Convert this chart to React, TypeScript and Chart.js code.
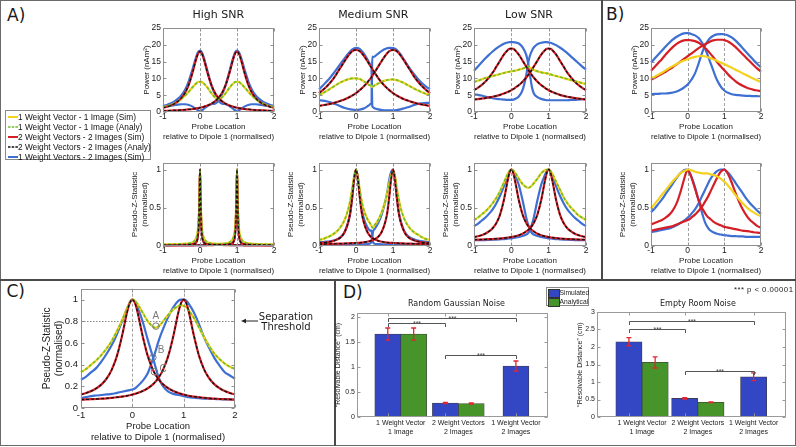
import React, { useEffect, useRef } from 'react';
import { Chart, registerables } from 'chart.js';

Chart.register(...registerables);

// ---------------- fonts & colours ----------------
const SANS = '"Liberation Sans", Arial, Helvetica, sans-serif';
const DEJAVU = '"DejaVu Sans", Verdana, sans-serif';
const YEL = '#f3d11f';
const GRN = '#6cbf2b';
const RED = '#d51f27';
const BLK = '#111111';
const BLU = '#3e6fd2';
const BAR_BLUE = '#3346c4';
const BAR_GREEN = '#47952a';
const ERR_RED = '#e3262e';
const TICK = '#1a1a1a';

// ---------------- shared ticks ----------------
const X_TICKS = [-1, 0, 1, 2];
const POWER_TICKS = [0, 5, 10, 15, 20, 25];
const Z_TICKS = [0, 0.5, 1];
const C_Y_TICKS = [0, 0.2, 0.4, 0.6, 0.8, 1];
const GUIDES = [0, 1];
const THRESHOLD = [0.8];

// ---------------- probe locations ----------------
const G = [-1, -0.9, -0.8, -0.7, -0.6, -0.5, -0.4, -0.3, -0.2, -0.1, -0.05, 0, 0.05, 0.1, 0.2, 0.3, 0.4, 0.45, 0.5, 0.55, 0.6, 0.7, 0.8, 0.9, 0.95, 1, 1.05, 1.1, 1.2, 1.3, 1.4, 1.5, 1.6, 1.7, 1.8, 1.9, 2];
const HIGH_Z_X = [-1, -0.8, -0.6, -0.4, -0.3, -0.2, -0.15, -0.1, -0.06, -0.03, -0.015, 0, 0.015, 0.03, 0.06, 0.1, 0.15, 0.2, 0.3, 0.4, 0.5, 0.6, 0.7, 0.8, 0.85, 0.9, 0.94, 0.97, 0.985, 1, 1.015, 1.03, 1.06, 1.1, 1.15, 1.2, 1.3, 1.4, 1.6, 1.8, 2];
const MED_P_X = [-1, -0.9, -0.8, -0.7, -0.6, -0.5, -0.4, -0.3, -0.2, -0.1, 0, 0.1, 0.2, 0.3, 0.35, 0.4, 0.42, 0.43, 0.44, 0.46, 0.5, 0.6, 0.7, 0.8, 0.9, 1, 1.1, 1.2, 1.3, 1.4, 1.5, 1.6, 1.7, 1.8, 1.9, 2];
const MED_Z_X = [-1, -0.9, -0.8, -0.7, -0.6, -0.5, -0.4, -0.3, -0.2, -0.15, -0.1, -0.05, 0, 0.05, 0.1, 0.15, 0.2, 0.3, 0.4, 0.42, 0.44, 0.46, 0.5, 0.6, 0.7, 0.8, 0.85, 0.9, 0.95, 1, 1.05, 1.1, 1.15, 1.2, 1.3, 1.4, 1.5, 1.6, 1.7, 1.8, 1.9, 2];

// ---------------- A: High SNR ----------------
const HIGH_P_ONE = [1.5, 1.7, 2.0, 2.5, 3.1, 3.9, 4.9, 6.1, 7.4, 8.5, 8.9, 9, 8.9, 8.5, 7.3, 5.7, 4.4, 4.0, 3.8, 4.0, 4.4, 5.7, 7.3, 8.5, 8.9, 9, 8.9, 8.5, 7.4, 6.1, 4.9, 3.9, 3.1, 2.5, 2.0, 1.7, 1.5];
const HIGH_P_TWO0 = [1.28, 1.55, 1.91, 2.42, 3.14, 4.2, 5.8, 8.25, 11.8, 15.9, 17.4, 18, 17.4, 15.9, 11.8, 8.25, 5.8, 4.92, 4.2, 3.62, 3.14, 2.42, 1.91, 1.55, 1.4, 1.28, 1.16, 1.07, 0.9, 0.78, 0.67, 0.59, 0.52, 0.46, 0.41, 0.37, 0.34];
const HIGH_P_TWO1 = [0.34, 0.37, 0.41, 0.46, 0.52, 0.59, 0.67, 0.78, 0.9, 1.07, 1.16, 1.28, 1.4, 1.55, 1.91, 2.42, 3.14, 3.62, 4.2, 4.92, 5.8, 8.25, 11.8, 15.9, 17.4, 18, 17.4, 15.9, 11.8, 8.25, 5.8, 4.2, 3.14, 2.42, 1.91, 1.55, 1.28];
const HIGH_P_BLU0 = [1.8, 2.1, 2.5, 3.1, 3.9, 5.0, 6.7, 9.3, 12.8, 16.5, 17.8, 18.3, 17.8, 16.3, 12.3, 8.3, 5.3, 4.2, 3.3, 2.8, 2.5, 2.3, 1.8, 0.9, 0.5, 0.3, 0.5, 0.9, 1.6, 2.1, 2.3, 2.3, 2.2, 2.0, 1.8, 1.6, 1.4];
const HIGH_P_BLU1 = [1.4, 1.6, 1.8, 2.0, 2.2, 2.3, 2.3, 2.1, 1.6, 0.9, 0.5, 0.3, 0.5, 0.9, 1.8, 2.3, 2.5, 2.8, 3.3, 4.2, 5.3, 8.3, 12.3, 16.3, 17.8, 18.3, 17.8, 16.5, 12.8, 9.3, 6.7, 5.0, 3.9, 3.1, 2.5, 2.1, 1.8];

const HIGH_Z_ONE = [0.02, 0.022, 0.025, 0.03, 0.035, 0.05, 0.07, 0.11, 0.2, 0.42, 0.7, 1, 0.7, 0.42, 0.2, 0.11, 0.07, 0.05, 0.035, 0.03, 0.028, 0.03, 0.035, 0.05, 0.07, 0.11, 0.2, 0.42, 0.7, 1, 0.7, 0.42, 0.2, 0.11, 0.07, 0.05, 0.035, 0.03, 0.025, 0.022, 0.02];
const HIGH_Z_TWO0 = [0.01, 0.011, 0.013, 0.016, 0.02, 0.025, 0.03, 0.05, 0.12, 0.32, 0.62, 1, 0.62, 0.32, 0.12, 0.05, 0.03, 0.025, 0.02, 0.016, 0.014, 0.013, 0.012, 0.011, 0.011, 0.01, 0.01, 0.01, 0.01, 0.01, 0.01, 0.01, 0.01, 0.0095, 0.0095, 0.009, 0.009, 0.0085, 0.008, 0.008, 0.0075];
const HIGH_Z_TWO1 = [0.0075, 0.008, 0.008, 0.0085, 0.009, 0.009, 0.0095, 0.0095, 0.01, 0.01, 0.01, 0.01, 0.01, 0.01, 0.01, 0.01, 0.011, 0.011, 0.012, 0.013, 0.014, 0.016, 0.02, 0.025, 0.03, 0.05, 0.12, 0.32, 0.62, 1, 0.62, 0.32, 0.12, 0.05, 0.03, 0.025, 0.02, 0.016, 0.013, 0.011, 0.01];
const HIGH_Z_BLU0 = [0.012, 0.013, 0.015, 0.018, 0.022, 0.028, 0.034, 0.055, 0.13, 0.34, 0.64, 1, 0.64, 0.34, 0.13, 0.055, 0.034, 0.028, 0.022, 0.018, 0.016, 0.015, 0.014, 0.013, 0.012, 0.012, 0.012, 0.012, 0.012, 0.012, 0.012, 0.012, 0.012, 0.011, 0.011, 0.011, 0.011, 0.01, 0.01, 0.01, 0.01];
const HIGH_Z_BLU1 = [0.01, 0.01, 0.01, 0.01, 0.011, 0.011, 0.011, 0.011, 0.012, 0.012, 0.012, 0.012, 0.012, 0.012, 0.012, 0.012, 0.012, 0.013, 0.014, 0.015, 0.016, 0.018, 0.022, 0.028, 0.034, 0.055, 0.13, 0.34, 0.64, 1, 0.64, 0.34, 0.13, 0.055, 0.034, 0.028, 0.022, 0.018, 0.015, 0.013, 0.012];

// ---------------- A: Medium SNR ----------------
const MED_P_ONE = [5.0, 5.6, 6.2, 6.9, 7.6, 8.3, 8.9, 9.4, 9.8, 10.0, 10.0, 9.8, 9.2, 8.5, 8.1, 7.8, 7.6, 7.5, 7.5, 7.6, 7.9, 8.5, 9.0, 9.4, 9.6, 9.7, 9.5, 9.1, 8.6, 8.0, 7.4, 6.8, 6.3, 5.8, 5.4, 5.0];
const MED_P_TWO0 = [5.6, 6.5, 7.5, 8.7, 10.1, 11.8, 13.5, 15.3, 16.9, 18.1, 18.5, 18.1, 16.9, 15.3, 14.4, 13.5, 13.2, 13.0, 12.8, 12.45, 11.8, 10.1, 8.7, 7.5, 6.5, 5.6, 4.9, 4.3, 3.8, 3.4, 3.0, 2.7, 2.4, 2.2, 2.0, 1.8];
const MED_P_TWO1 = [1.8, 2.0, 2.2, 2.4, 2.7, 3.0, 3.4, 3.8, 4.3, 4.9, 5.6, 6.5, 7.5, 8.7, 9.4, 10.1, 10.4, 10.6, 10.75, 11.1, 11.8, 13.5, 15.3, 16.9, 18.1, 18.5, 18.1, 16.9, 15.3, 13.5, 11.8, 10.1, 8.7, 7.5, 6.5, 5.6];
const MED_P_BLU0 = [6.8, 7.8, 9.0, 10.2, 11.6, 13.1, 14.6, 16.1, 17.5, 18.6, 19.1, 18.8, 17.6, 15.8, 14.8, 13.8, 13.0, 7.5, 1.8, 1.4, 1.1, 0.8, 0.6, 0.5, 0.5, 0.5, 0.6, 0.8, 1.1, 1.4, 1.8, 2.2, 2.5, 2.6, 2.7, 2.7];
const MED_P_BLU1 = [3.5, 3.4, 3.2, 2.9, 2.5, 2.1, 1.6, 1.2, 0.9, 0.7, 0.6, 0.7, 1.0, 1.6, 2.0, 2.4, 2.8, 9, 16.5, 16.3, 16.5, 17.4, 18.2, 18.8, 19.1, 19.0, 18.5, 17.2, 15.5, 13.8, 12.2, 10.8, 9.5, 8.4, 7.5, 6.8];

const MED_Z_ONE = [0.08, 0.09, 0.11, 0.13, 0.16, 0.2, 0.26, 0.35, 0.5, 0.61, 0.76, 0.91, 1.0, 0.9, 0.74, 0.6, 0.49, 0.36, 0.28, 0.26, 0.24, 0.24, 0.27, 0.34, 0.45, 0.6, 0.71, 0.82, 0.93, 0.97, 0.92, 0.77, 0.63, 0.51, 0.36, 0.27, 0.21, 0.17, 0.14, 0.11, 0.09, 0.08];
const MED_Z_TWO0 = [0.04, 0.042, 0.048, 0.056, 0.068, 0.088, 0.12, 0.19, 0.33, 0.45, 0.65, 0.88, 1.0, 0.88, 0.65, 0.45, 0.33, 0.19, 0.12, 0.11, 0.105, 0.1, 0.088, 0.068, 0.056, 0.048, 0.045, 0.042, 0.041, 0.04, 0.039, 0.038, 0.036, 0.035, 0.033, 0.031, 0.03, 0.029, 0.028, 0.027, 0.026, 0.025];
const MED_Z_TWO1 = [0.025, 0.026, 0.027, 0.028, 0.029, 0.03, 0.031, 0.033, 0.035, 0.036, 0.038, 0.039, 0.04, 0.041, 0.042, 0.045, 0.048, 0.056, 0.068, 0.072, 0.076, 0.08, 0.088, 0.12, 0.19, 0.33, 0.45, 0.65, 0.88, 1.0, 0.88, 0.65, 0.45, 0.33, 0.19, 0.12, 0.088, 0.068, 0.056, 0.048, 0.042, 0.04];
const MED_Z_BLU0 = [0.05, 0.052, 0.056, 0.062, 0.072, 0.09, 0.12, 0.19, 0.33, 0.45, 0.65, 0.88, 1.0, 0.9, 0.68, 0.5, 0.38, 0.25, 0.2, 0.2, 0.12, 0.05, 0.03, 0.025, 0.022, 0.02, 0.02, 0.02, 0.02, 0.02, 0.02, 0.02, 0.02, 0.021, 0.022, 0.023, 0.024, 0.025, 0.026, 0.027, 0.028, 0.03];
const MED_Z_BLU1 = [0.03, 0.029, 0.028, 0.027, 0.026, 0.025, 0.024, 0.023, 0.022, 0.021, 0.02, 0.02, 0.02, 0.02, 0.02, 0.021, 0.022, 0.025, 0.04, 0.07, 0.12, 0.19, 0.22, 0.3, 0.42, 0.6, 0.72, 0.87, 0.97, 1.0, 0.88, 0.65, 0.46, 0.34, 0.2, 0.13, 0.1, 0.08, 0.068, 0.06, 0.055, 0.05];

// ---------------- A: Low SNR ----------------
const LOW_P_ONE = [8.9, 9.3, 9.7, 10.1, 10.4, 10.7, 11.0, 11.3, 11.6, 11.9, 12.0, 12.1, 12.2, 12.3, 12.6, 12.9, 13.3, 13.5, 13.2, 12.8, 12.5, 12.1, 11.8, 11.6, 11.5, 11.4, 11.2, 11.0, 10.7, 10.4, 10.1, 9.8, 9.5, 9.2, 8.9, 8.6, 8.3];
const LOW_P_TWO0 = [6.5, 7.2, 8.0, 9.0, 10.25, 11.7, 13.5, 15.3, 17.1, 18.4, 18.8, 18.9, 18.8, 18.4, 17.1, 15.3, 13.5, 12.6, 11.7, 11.0, 10.25, 9.0, 8.0, 7.2, 6.8, 6.5, 6.2, 5.95, 5.5, 5.1, 4.8, 4.55, 4.35, 4.15, 4.0, 3.85, 3.7];
const LOW_P_TWO1 = [3.7, 3.85, 4.0, 4.15, 4.35, 4.55, 4.8, 5.1, 5.5, 5.95, 6.2, 6.5, 6.8, 7.2, 8.0, 9.0, 10.25, 11.0, 11.7, 12.6, 13.5, 15.3, 17.1, 18.4, 18.8, 18.9, 18.8, 18.4, 17.1, 15.3, 13.5, 11.7, 10.25, 9.0, 8.0, 7.2, 6.5];
const LOW_P_BLU0 = [12.3, 13.5, 14.7, 15.9, 17.0, 18.0, 18.9, 19.7, 20.3, 20.7, 20.8, 20.8, 20.8, 20.7, 20.4, 19.3, 17, 14.5, 11, 7.5, 5.6, 4.4, 3.9, 3.6, 3.5, 3.5, 3.5, 3.5, 3.5, 3.5, 3.5, 3.5, 3.6, 3.6, 3.7, 3.8, 3.9];
const LOW_P_BLU1 = [5.3, 5.1, 4.9, 4.6, 4.3, 4.1, 3.9, 3.8, 3.7, 3.6, 3.6, 3.6, 3.7, 3.9, 4.6, 6.5, 11, 14.5, 16.8, 18.2, 19.2, 20.2, 20.6, 20.8, 20.8, 20.7, 20.6, 20.4, 19.9, 19.2, 18.4, 17.5, 16.5, 15.5, 14.5, 13.5, 12.6];

const LOW_Z_ONE = [0.34, 0.37, 0.41, 0.45, 0.5, 0.56, 0.63, 0.72, 0.83, 0.94, 0.98, 1.0, 0.99, 0.96, 0.88, 0.81, 0.77, 0.76, 0.77, 0.79, 0.82, 0.88, 0.95, 0.99, 1.0, 1.0, 0.98, 0.94, 0.84, 0.74, 0.64, 0.56, 0.5, 0.45, 0.4, 0.37, 0.34];
const LOW_Z_TWO0 = [0.117, 0.127, 0.141, 0.161, 0.19, 0.233, 0.3, 0.414, 0.6, 0.852, 0.958, 1.0, 0.958, 0.852, 0.6, 0.414, 0.3, 0.263, 0.233, 0.209, 0.19, 0.161, 0.141, 0.127, 0.122, 0.117, 0.113, 0.109, 0.103, 0.098, 0.0945, 0.091, 0.089, 0.087, 0.085, 0.0835, 0.082];
const LOW_Z_TWO1 = [0.082, 0.0835, 0.085, 0.087, 0.089, 0.091, 0.0945, 0.098, 0.103, 0.109, 0.113, 0.117, 0.122, 0.127, 0.141, 0.161, 0.19, 0.209, 0.233, 0.263, 0.3, 0.414, 0.6, 0.852, 0.958, 1.0, 0.958, 0.852, 0.6, 0.414, 0.3, 0.233, 0.19, 0.161, 0.141, 0.127, 0.117];
const LOW_Z_BLU0 = [0.26, 0.29, 0.33, 0.37, 0.42, 0.48, 0.56, 0.66, 0.78, 0.91, 0.97, 1.0, 0.98, 0.93, 0.8, 0.6, 0.37, 0.28, 0.21, 0.17, 0.15, 0.13, 0.12, 0.11, 0.105, 0.1, 0.1, 0.095, 0.09, 0.087, 0.084, 0.082, 0.08, 0.078, 0.077, 0.076, 0.075];
const LOW_Z_BLU1 = [0.075, 0.076, 0.077, 0.078, 0.08, 0.082, 0.084, 0.087, 0.09, 0.095, 0.1, 0.1, 0.105, 0.11, 0.12, 0.13, 0.15, 0.17, 0.21, 0.28, 0.37, 0.6, 0.8, 0.93, 0.98, 1.0, 0.97, 0.91, 0.78, 0.66, 0.56, 0.48, 0.42, 0.37, 0.33, 0.29, 0.26];

// ---------------- B ----------------
const B_P_YEL = [10, 10.5, 11.1, 11.7, 12.4, 13.1, 13.7, 14.3, 14.9, 15.3, 15.5, 15.7, 15.9, 16.1, 16.4, 16.6, 16.7, 16.6, 16.5, 16.3, 16.1, 15.7, 15.2, 14.7, 14.5, 14.2, 14.0, 13.7, 13.2, 12.6, 12.1, 11.5, 11.0, 10.4, 9.9, 9.4, 8.9];
const B_P_RED0 = [12.3, 13.4, 14.6, 15.8, 17.1, 18.3, 19.4, 20.3, 20.9, 21.3, 21.4, 21.4, 21.4, 21.3, 21.1, 20.6, 19.8, 19.3, 18.8, 18.2, 17.6, 16.3, 14.9, 13.6, 13.0, 12.4, 11.8, 11.2, 10.1, 9.2, 8.4, 7.8, 7.3, 6.9, 6.6, 6.4, 6.2];
const B_P_RED1 = [9.6, 10.2, 10.8, 11.4, 12.0, 12.7, 13.4, 14.2, 15.0, 15.8, 16.2, 16.6, 17.0, 17.4, 18.2, 19.0, 19.7, 20.0, 20.3, 20.6, 20.9, 21.3, 21.5, 21.5, 21.5, 21.4, 21.2, 21.0, 20.3, 19.4, 18.3, 17.2, 16.1, 15.0, 13.9, 12.9, 12.0];
const B_P_BLU0 = [14.7, 15.9, 17.1, 18.3, 19.5, 20.6, 21.6, 22.4, 23.0, 23.4, 23.5, 23.5, 23.4, 23.2, 22.8, 22.0, 20.5, 19.5, 18.2, 16.8, 15.3, 12.3, 9.5, 7.6, 6.9, 6.4, 6.0, 5.7, 5.3, 5.1, 5.0, 4.9, 4.8, 4.8, 4.7, 4.7, 4.7];
const B_P_BLU1 = [5.3, 5.4, 5.4, 5.5, 5.5, 5.6, 5.8, 6.1, 6.6, 7.3, 7.7, 8.2, 8.8, 9.6, 11.5, 14.5, 17.8, 19.2, 20.3, 21.2, 21.9, 22.7, 23.1, 23.2, 23.2, 23.1, 23.0, 22.8, 22.2, 21.3, 20.2, 19.0, 17.8, 16.6, 15.4, 14.3, 13.3];

const B_Z_YEL = [0.49, 0.55, 0.61, 0.67, 0.73, 0.79, 0.85, 0.9, 0.95, 0.98, 0.99, 1.0, 1.0, 0.99, 0.97, 0.96, 0.95, 0.95, 0.95, 0.95, 0.94, 0.93, 0.91, 0.88, 0.86, 0.84, 0.82, 0.79, 0.73, 0.67, 0.61, 0.56, 0.51, 0.47, 0.44, 0.41, 0.39];
const B_Z_RED0 = [0.28, 0.3, 0.32, 0.34, 0.37, 0.41, 0.47, 0.56, 0.7, 0.87, 0.95, 1.0, 0.96, 0.9, 0.75, 0.6, 0.49, 0.45, 0.41, 0.38, 0.36, 0.32, 0.29, 0.27, 0.26, 0.25, 0.245, 0.24, 0.23, 0.22, 0.21, 0.2, 0.195, 0.19, 0.18, 0.175, 0.17];
const B_Z_RED1 = [0.2, 0.21, 0.22, 0.23, 0.24, 0.25, 0.26, 0.28, 0.3, 0.32, 0.33, 0.34, 0.35, 0.37, 0.41, 0.46, 0.52, 0.56, 0.6, 0.64, 0.69, 0.79, 0.89, 0.97, 0.99, 1.0, 0.98, 0.94, 0.83, 0.7, 0.58, 0.48, 0.4, 0.34, 0.3, 0.26, 0.24];
const B_Z_BLU0 = [0.44, 0.49, 0.55, 0.61, 0.68, 0.75, 0.82, 0.89, 0.95, 0.99, 1.0, 0.99, 0.96, 0.91, 0.77, 0.59, 0.42, 0.34, 0.28, 0.24, 0.21, 0.18, 0.16, 0.15, 0.145, 0.14, 0.14, 0.135, 0.13, 0.13, 0.125, 0.125, 0.12, 0.12, 0.12, 0.12, 0.12];
const B_Z_BLU1 = [0.18, 0.19, 0.2, 0.21, 0.22, 0.23, 0.25, 0.27, 0.3, 0.33, 0.35, 0.37, 0.39, 0.42, 0.48, 0.56, 0.66, 0.71, 0.76, 0.81, 0.86, 0.93, 0.98, 1.0, 1.0, 1.0, 0.98, 0.96, 0.9, 0.83, 0.76, 0.69, 0.62, 0.56, 0.51, 0.46, 0.42];

// ---------------- C ----------------
const C_ONE = [0.33, 0.36, 0.4, 0.44, 0.49, 0.55, 0.62, 0.71, 0.81, 0.92, 0.97, 1.0, 0.99, 0.96, 0.88, 0.8, 0.75, 0.74, 0.75, 0.77, 0.8, 0.86, 0.91, 0.94, 0.95, 0.94, 0.93, 0.9, 0.83, 0.74, 0.65, 0.57, 0.5, 0.45, 0.41, 0.38, 0.36];
const C_TWO0 = [0.124, 0.138, 0.156, 0.182, 0.218, 0.272, 0.354, 0.48, 0.667, 0.887, 0.969, 1.0, 0.969, 0.887, 0.667, 0.48, 0.354, 0.309, 0.272, 0.2425, 0.218, 0.182, 0.156, 0.138, 0.13, 0.124, 0.118, 0.113, 0.105, 0.099, 0.094, 0.0895, 0.086, 0.083, 0.081, 0.079, 0.077];
const C_TWO1 = [0.077, 0.079, 0.081, 0.083, 0.086, 0.0895, 0.094, 0.099, 0.105, 0.113, 0.118, 0.124, 0.13, 0.138, 0.156, 0.182, 0.218, 0.2425, 0.272, 0.309, 0.354, 0.48, 0.667, 0.887, 0.969, 1.0, 0.969, 0.887, 0.667, 0.48, 0.354, 0.272, 0.218, 0.182, 0.156, 0.138, 0.124];
const C_BLU0 = [0.26, 0.29, 0.33, 0.37, 0.43, 0.5, 0.58, 0.68, 0.8, 0.92, 0.97, 1.0, 0.98, 0.93, 0.8, 0.63, 0.47, 0.38, 0.3, 0.24, 0.2, 0.15, 0.13, 0.12, 0.115, 0.11, 0.105, 0.1, 0.095, 0.09, 0.087, 0.085, 0.083, 0.081, 0.08, 0.079, 0.078];
const C_BLU1 = [0.09, 0.1, 0.11, 0.115, 0.12, 0.125, 0.13, 0.14, 0.15, 0.16, 0.165, 0.17, 0.18, 0.2, 0.25, 0.32, 0.45, 0.52, 0.6, 0.67, 0.73, 0.84, 0.93, 0.99, 1.0, 1.0, 0.99, 0.96, 0.88, 0.77, 0.65, 0.55, 0.46, 0.39, 0.33, 0.3, 0.27];
const C_NOTE_TEXT = ['A', 'B', 'C'];
const C_NOTE_X = [0.46, 0.56, 0.6];
const C_NOTE_Y = [0.85, 0.53, 0.36];
const C_RING_X = [0.46, 0.4, 0.43];
const C_RING_Y = [0.755, 0.466, 0.334];

// ---------------- D ----------------
const CATEGORIES = [['1 Weight Vector', '1 Image'], ['2 Weight Vectors', '2 Images'], ['1 Weight Vector', '2 Images']];
const GAUSS_SIM = [1.66, 0.28, 1.02];
const GAUSS_SIM_ERR = [0.12, 0.01, 0.1];
const GAUSS_ANA = [1.66, 0.27];
const GAUSS_ANA_ERR = [0.12, 0.01];
const GAUSS_BR_FROM = [0, 0, 1];
const GAUSS_BR_TO = [1, 2, 2];
const GAUSS_BR_LEVEL = [1.87, 1.99, 1.25];
const GAUSS_Y_TICKS = [0, 0.5, 1, 1.5, 2];
const ROOM_SIM = [2.15, 0.53, 1.15];
const ROOM_SIM_ERR = [0.12, 0.02, 0.11];
const ROOM_ANA = [1.56, 0.42];
const ROOM_ANA_ERR = [0.16, 0.01];
const ROOM_BR_FROM = [0, 0, 1];
const ROOM_BR_TO = [1, 2, 2];
const ROOM_BR_LEVEL = [2.5, 2.74, 1.32];
const ROOM_Y_TICKS = [0, 0.5, 1, 1.5, 2, 2.5, 3];

const LEGEND_LABELS = ['1 Weight Vector - 1 Image (Sim)', '1 Weight Vector - 1 Image (Analy)', '2 Weight Vectors - 2 Images (Sim)', '2 Weight Vectors - 2 Images (Analy)', '1 Weight Vectors - 2 Images (Sim)'];
const LEGEND_COLORS = [YEL, GRN, RED, BLK, BLU];
const LEGEND_DASHED = [false, true, false, true, false];

// ---------------- plugins ----------------
const TP = 8;
const RP = 10;

const mAxes = {
  id: 'mAxes',
  beforeDatasetsDraw(chart: any, _a: any, o: any) {
    const { ctx, chartArea: a, scales } = chart;
    const x = scales.x, y = scales.y;
    ctx.save();
    ctx.lineWidth = 1;
    ctx.strokeStyle = '#a0a0a0';
    (o.vlines || []).forEach((v: number) => {
      const px = Math.round(x.getPixelForValue(v)) + 0.5;
      ctx.setLineDash([3, 2]);
      ctx.beginPath(); ctx.moveTo(px, a.top); ctx.lineTo(px, a.bottom); ctx.stroke();
    });
    (o.hlines || []).forEach((v: number) => {
      const py = Math.round(y.getPixelForValue(v)) + 0.5;
      ctx.setLineDash([1.5, 1.5]);
      ctx.strokeStyle = '#888';
      ctx.beginPath(); ctx.moveTo(a.left, py); ctx.lineTo(a.right, py); ctx.stroke();
    });
    ctx.restore();
  },
  afterDatasetsDraw(chart: any, _a: any, o: any) {
    const { ctx, chartArea: a, scales } = chart;
    const x = scales.x, y = scales.y;
    ctx.save();
    ctx.setLineDash([]);
    ctx.strokeStyle = o.boxColor || '#8f8f8f';
    ctx.lineWidth = 1;
    const L = Math.round(a.left) + 0.5, T = Math.round(a.top) + 0.5;
    const R = Math.round(a.right) - 0.5, B = Math.round(a.bottom) - 0.5;
    ctx.strokeRect(L, T, R - L, B - T);
    const tl = 3;
    ctx.beginPath();
    const xm = o.xMarks || x.ticks.map((t: any) => t.value);
    xm.forEach((v: number) => {
      const px = Math.round(x.getPixelForValue(v)) + 0.5;
      ctx.moveTo(px, B); ctx.lineTo(px, B - tl);
      ctx.moveTo(px, T); ctx.lineTo(px, T + tl);
    });
    y.ticks.forEach((t: any) => {
      const py = Math.round(y.getPixelForValue(t.value)) + 0.5;
      ctx.moveTo(L, py); ctx.lineTo(L + tl, py);
      ctx.moveTo(R, py); ctx.lineTo(R - tl, py);
    });
    ctx.stroke();
    if (o.notes) {
      const n = o.notes;
      ctx.fillStyle = '#7a7a7a';
      ctx.strokeStyle = '#7a7a7a';
      ctx.font = `10px ${SANS}`;
      ctx.textAlign = 'center';
      ctx.textBaseline = 'middle';
      n.text.forEach((t: string, i: number) => {
        ctx.fillText(t, x.getPixelForValue(n.tx[i]), y.getPixelForValue(n.ty[i]));
      });
      ctx.lineWidth = 1;
      n.rx.forEach((v: number, i: number) => {
        ctx.beginPath();
        ctx.arc(x.getPixelForValue(v), y.getPixelForValue(n.ry[i]), 3.3, 0, Math.PI * 2);
        ctx.stroke();
      });
    }
    ctx.restore();
  },
};

const barExtras = {
  id: 'barExtras',
  afterDatasetsDraw(chart: any, _a: any, o: any) {
    const { ctx, scales } = chart;
    const y = scales.y;
    ctx.save();
    chart.data.datasets.forEach((ds: any, di: number) => {
      const meta = chart.getDatasetMeta(di);
      (ds.errors || []).forEach((e: number, i: number) => {
        const el = meta.data[i];
        const v = ds.data[i].y;
        const px = el.x;
        const y1 = y.getPixelForValue(v + e), y2 = y.getPixelForValue(v - e);
        ctx.strokeStyle = ERR_RED;
        ctx.lineWidth = 1.3;
        ctx.beginPath();
        ctx.moveTo(px, y1); ctx.lineTo(px, y2);
        ctx.moveTo(px - 2.5, y1); ctx.lineTo(px + 2.5, y1);
        ctx.moveTo(px - 2.5, y2); ctx.lineTo(px + 2.5, y2);
        ctx.stroke();
      });
    });
    const blue = chart.getDatasetMeta(0).data;
    o.from.forEach((f: number, k: number) => {
      const x1 = Math.round(blue[f].x) + 0.5, x2 = Math.round(blue[o.to[k]].x) + 0.5;
      const yy = Math.round(y.getPixelForValue(o.level[k])) + 0.5;
      ctx.strokeStyle = '#555';
      ctx.lineWidth = 1;
      ctx.beginPath();
      ctx.moveTo(x1, yy + 3.5); ctx.lineTo(x1, yy); ctx.lineTo(x2, yy); ctx.lineTo(x2, yy + 3.5);
      ctx.stroke();
      ctx.fillStyle = '#444';
      ctx.font = `7px ${SANS}`;
      ctx.textAlign = 'center';
      ctx.textBaseline = 'alphabetic';
      ctx.fillText('***', (x1 + x2) / 2, yy + 2.5);
    });
    ctx.restore();
  },
};

// ---------------- chart builders ----------------
type Ser = { y: number[]; color: string; dash?: number[]; width?: number; order: number };

function aSeries(one: number[], two0: number[], two1: number[], blu0: number[], blu1: number[]): Ser[] {
  return [
    { y: two0, color: BLK, dash: [3, 2], width: 1.3, order: 0 },
    { y: two1, color: BLK, dash: [3, 2], width: 1.3, order: 0 },
    { y: one, color: GRN, dash: [3, 2], width: 1.6, order: 1 },
    { y: two0, color: RED, width: 2.2, order: 2 },
    { y: two1, color: RED, width: 2.2, order: 2 },
    { y: one, color: YEL, width: 2.2, order: 3 },
    { y: blu0, color: BLU, width: 2.2, order: 4 },
    { y: blu1, color: BLU, width: 2.2, order: 4 },
  ];
}

function bSeries(yel: number[], red0: number[], red1: number[], blu0: number[], blu1: number[]): Ser[] {
  return [
    { y: yel, color: YEL, width: 2.2, order: 0 },
    { y: red0, color: RED, width: 2.2, order: 1 },
    { y: red1, color: RED, width: 2.2, order: 1 },
    { y: blu0, color: BLU, width: 2.2, order: 2 },
    { y: blu1, color: BLU, width: 2.2, order: 2 },
  ];
}

type LineSpec = {
  left: number; top: number; w: number; h: number;
  x: number[]; series: Ser[]; ymax: number; yticks: number[];
  ytitle: string[]; ytSize: number; ytLH: number; yw: number; ytPad: number;
  xtitle: string[]; xtSize: number; xtLH: number; xh: number; xtPad: number;
  tickSize: number; xtickPad: number; ytickPad: number;
  hlines?: number[]; notes?: any;
};

function lineConfig(s: LineSpec) {
  const tickFont = { family: SANS, size: s.tickSize };
  return {
    type: 'line',
    data: {
      datasets: s.series.map((se) => ({
        data: se.y.map((v, i) => ({ x: s.x[i], y: v })),
        borderColor: se.color,
        borderWidth: se.width ?? 2,
        borderDash: se.dash ?? [],
        pointRadius: 0,
        fill: false,
        cubicInterpolationMode: 'monotone',
        order: se.order,
        clip: 1,
      })),
    },
    options: {
      responsive: false,
      animation: false,
      events: [],
      layout: { padding: { left: 0, top: TP, right: RP, bottom: 0 } },
      plugins: {
        legend: { display: false },
        tooltip: { enabled: false },
        mAxes: { vlines: GUIDES, hlines: s.hlines, notes: s.notes },
      },
      scales: {
        x: {
          type: 'linear', min: -1, max: 2,
          afterBuildTicks: (sc: any) => { sc.ticks = X_TICKS.map((v) => ({ value: v })); },
          afterFit: (sc: any) => { sc.height = s.xh; },
          grid: { display: false, drawTicks: false },
          border: { display: false },
          ticks: { font: tickFont, color: TICK, padding: s.xtickPad, maxRotation: 0, autoSkip: false, callback: (v: number) => String(v) },
          title: { display: true, text: s.xtitle, color: TICK, font: { family: SANS, size: s.xtSize, lineHeight: s.xtLH }, padding: { top: 0, bottom: s.xtPad } },
        },
        y: {
          type: 'linear', min: 0, max: s.ymax,
          afterBuildTicks: (sc: any) => { sc.ticks = s.yticks.map((v) => ({ value: v })); },
          afterFit: (sc: any) => { sc.width = s.yw; },
          grid: { display: false, drawTicks: false },
          border: { display: false },
          ticks: { font: tickFont, color: TICK, padding: s.ytickPad, autoSkip: false, callback: (v: number) => String(v) },
          title: { display: true, text: s.ytitle, color: TICK, font: { family: SANS, size: s.ytSize, lineHeight: s.ytLH }, padding: { top: s.ytPad, bottom: 0 } },
        },
      },
    },
    plugins: [mAxes],
  };
}

type BarSpec = {
  left: number; top: number; w: number; h: number;
  sim: number[]; simErr: number[]; ana: number[]; anaErr: number[]; shift: number;
  xmin: number; xmax: number; ymax: number; yticks: number[];
  from: number[]; to: number[]; level: number[]; yw: number; ytPad: number;
};

function barConfig(s: BarSpec) {
  const font7 = { family: SANS, size: 7 };
  const simX = s.sim.map((_, i) => i + 1 - (i < s.ana.length ? s.shift : 0));
  const anaX = s.ana.map((_, i) => i + 1 + s.shift);
  return {
    type: 'bar',
    data: {
      datasets: [
        { data: s.sim.map((v, i) => ({ x: simX[i], y: v })), errors: s.simErr, backgroundColor: BAR_BLUE, borderColor: '#3d3d55', borderWidth: 0.8, grouped: false, categoryPercentage: 1, barPercentage: 1 },
        { data: s.ana.map((v, i) => ({ x: anaX[i], y: v })), errors: s.anaErr, backgroundColor: BAR_GREEN, borderColor: '#3d4d35', borderWidth: 0.8, grouped: false, categoryPercentage: 1, barPercentage: 1 },
      ],
    },
    options: {
      responsive: false,
      animation: false,
      events: [],
      layout: { padding: { left: 0, top: TP, right: RP, bottom: 0 } },
      plugins: {
        legend: { display: false },
        tooltip: { enabled: false },
        mAxes: { xMarks: simX, boxColor: '#9a9a9a' },
        barExtras: { from: s.from, to: s.to, level: s.level },
      },
      scales: {
        x: {
          type: 'linear', min: s.xmin, max: s.xmax, offset: false,
          afterBuildTicks: (sc: any) => { sc.ticks = CATEGORIES.map((_, i) => ({ value: i + 1 })); },
          afterFit: (sc: any) => { sc.height = 22; },
          grid: { display: false, drawTicks: false, offset: false },
          border: { display: false },
          ticks: { font: { ...font7, lineHeight: 1.2 }, color: TICK, padding: 2, maxRotation: 0, autoSkip: false, callback: (_v: number, i: number) => CATEGORIES[i] },
        },
        y: {
          type: 'linear', min: 0, max: s.ymax,
          afterBuildTicks: (sc: any) => { sc.ticks = s.yticks.map((v) => ({ value: v })); },
          afterFit: (sc: any) => { sc.width = s.yw; },
          grid: { display: false, drawTicks: false },
          border: { display: false },
          ticks: { font: font7, color: TICK, padding: 2, autoSkip: false, callback: (v: number) => String(v) },
          title: { display: true, text: '\u201CResolvable Distance\u201D (cm)', color: TICK, font: { family: SANS, size: 7, lineHeight: 1.2 }, padding: { top: s.ytPad, bottom: 0 } },
        },
      },
    },
    plugins: [mAxes, barExtras],
  };
}

// ---------------- components ----------------
function ChartBox({ left, top, width, height, config }: { left: number; top: number; width: number; height: number; config: any }) {
  const ref = useRef<HTMLCanvasElement | null>(null);
  useEffect(() => {
    const chart = new Chart(ref.current as HTMLCanvasElement, config);
    return () => chart.destroy();
  }, []);
  return <canvas ref={ref} width={width} height={height} style={{ position: 'absolute', left, top, width, height }} />;
}

function LinePlot(s: LineSpec) {
  return <ChartBox left={s.left - s.yw} top={s.top - TP} width={s.yw + s.w + RP} height={TP + s.h + s.xh} config={lineConfig(s)} />;
}

function BarPlot(s: BarSpec) {
  return <ChartBox left={s.left - s.yw} top={s.top - TP} width={s.yw + s.w + RP} height={TP + s.h + 22} config={barConfig(s)} />;
}

function Txt({ x, y, text, size, font, anchor = 'left', color = '#1a1a1a', spacing = 0 }: { x: number; y: number; text: string; size: number; font: string; anchor?: string; color?: string; spacing?: number }) {
  const lh = size * 1.2;
  const style: any = { position: 'absolute', top: y - lh / 2, height: lh, lineHeight: `${lh}px`, fontSize: size, fontFamily: font, color, whiteSpace: 'nowrap', letterSpacing: spacing };
  if (anchor === 'center') { style.left = x - 150; style.width = 300; style.textAlign = 'center'; } else { style.left = x; }
  return <div style={style}>{text}</div>;
}

const TOP_TITLE = ['Probe Location', 'relative to Dipole 1 (normalised)'];

function topSpec(left: number, w: number, x: number[], series: Ser[]): LineSpec {
  return {
    left, top: 28, w, h: 84, x, series, ymax: 25, yticks: POWER_TICKS,
    ytitle: ['Power (nAm\u00B2)'], ytSize: 8, ytLH: 1.2, yw: 22, ytPad: 0.9,
    xtitle: TOP_TITLE, xtSize: 8, xtLH: 1.32, xh: 31, xtPad: 0.66,
    tickSize: 8.5, xtickPad: 0, ytickPad: 2,
  };
}

function botSpec(left: number, w: number, x: number[], series: Ser[]): LineSpec {
  return {
    left, top: 163, w, h: 83, x, series, ymax: 1.085, yticks: Z_TICKS,
    ytitle: ['Pseudo-Z-Statistic', '(normalised)'], ytSize: 8, ytLH: 1.2, yw: 33, ytPad: 0.2,
    xtitle: TOP_TITLE, xtSize: 8, xtLH: 1.32, xh: 31, xtPad: 0.66,
    tickSize: 8.5, xtickPad: 0, ytickPad: 2,
  };
}

const cSpec: LineSpec = {
  left: 81, top: 288, w: 154, h: 120, x: G,
  series: aSeries(C_ONE, C_TWO0, C_TWO1, C_BLU0, C_BLU1),
  ymax: 1.1, yticks: C_Y_TICKS,
  ytitle: ['Pseudo-Z-Statistic', '(normalised)'], ytSize: 10, ytLH: 1.25, yw: 41, ytPad: 0.75,
  xtitle: TOP_TITLE, xtSize: 9.5, xtLH: 1.116, xh: 35, xtPad: 0.4,
  tickSize: 9.5, xtickPad: 1.5, ytickPad: 3,
  hlines: THRESHOLD,
  notes: { text: C_NOTE_TEXT, tx: C_NOTE_X, ty: C_NOTE_Y, rx: C_RING_X, ry: C_RING_Y },
};

export default function App() {
  const lineDiv = (s: any) => <div style={{ position: 'absolute', background: '#4a4a4a', ...s }} />;
  return (
    <div style={{ position: 'absolute', left: 0, top: 0, width: 796, height: 447, background: '#fff', overflow: 'hidden' }}>
      {/* frames */}
      <div style={{ position: 'absolute', left: 0, top: 0, width: 796, height: 446, boxSizing: 'border-box', border: '1.5px solid #6a6a6a' }} />
      {lineDiv({ left: 0, top: 278.5, width: 796, height: 2 })}
      {lineDiv({ left: 601, top: 0, width: 2, height: 280 })}
      {lineDiv({ left: 333.5, top: 279, width: 2, height: 167 })}

      {/* panel A */}
      <LinePlot {...topSpec(163, 111, G, aSeries(HIGH_P_ONE, HIGH_P_TWO0, HIGH_P_TWO1, HIGH_P_BLU0, HIGH_P_BLU1))} />
      <LinePlot {...topSpec(319, 111, MED_P_X, aSeries(MED_P_ONE, MED_P_TWO0, MED_P_TWO1, MED_P_BLU0, MED_P_BLU1))} />
      <LinePlot {...topSpec(474, 112, G, aSeries(LOW_P_ONE, LOW_P_TWO0, LOW_P_TWO1, LOW_P_BLU0, LOW_P_BLU1))} />
      <LinePlot {...botSpec(163, 111, HIGH_Z_X, aSeries(HIGH_Z_ONE, HIGH_Z_TWO0, HIGH_Z_TWO1, HIGH_Z_BLU0, HIGH_Z_BLU1))} />
      <LinePlot {...botSpec(319, 111, MED_Z_X, aSeries(MED_Z_ONE, MED_Z_TWO0, MED_Z_TWO1, MED_Z_BLU0, MED_Z_BLU1))} />
      <LinePlot {...botSpec(474, 112, G, aSeries(LOW_Z_ONE, LOW_Z_TWO0, LOW_Z_TWO1, LOW_Z_BLU0, LOW_Z_BLU1))} />

      {/* panel B */}
      <LinePlot {...topSpec(651, 110, G, bSeries(B_P_YEL, B_P_RED0, B_P_RED1, B_P_BLU0, B_P_BLU1))} />
      <LinePlot {...botSpec(651, 110, G, bSeries(B_Z_YEL, B_Z_RED0, B_Z_RED1, B_Z_BLU0, B_Z_BLU1))} />

      {/* panel C */}
      <LinePlot {...cSpec} />

      {/* panel D */}
      <BarPlot left={357} top={313} w={191} h={104} sim={GAUSS_SIM} simErr={GAUSS_SIM_ERR} ana={GAUSS_ANA} anaErr={GAUSS_ANA_ERR} shift={0.225} xmin={0.241} xmax={3.557} ymax={2.08} yticks={GAUSS_Y_TICKS} from={GAUSS_BR_FROM} to={GAUSS_BR_TO} level={GAUSS_BR_LEVEL} yw={24} ytPad={0.8} />
      <BarPlot left={597} top={312} w={189} h={105} sim={ROOM_SIM} simErr={ROOM_SIM_ERR} ana={ROOM_ANA} anaErr={ROOM_ANA_ERR} shift={0.235} xmin={0.193} xmax={3.58} ymax={3} yticks={ROOM_Y_TICKS} from={ROOM_BR_FROM} to={ROOM_BR_TO} level={ROOM_BR_LEVEL} yw={22} ytPad={0.8} />

      {/* titles */}
      <Txt x={7} y={15} text="A)" size={17} font={DEJAVU} />
      <Txt x={606} y={14.5} text="B)" size={17} font={DEJAVU} />
      <Txt x={6.5} y={291.5} text="C)" size={17} font={DEJAVU} />
      <Txt x={343} y={292.5} text="D)" size={17} font={DEJAVU} />
      <Txt x={218.3} y={14.2} text="High SNR" size={11} font={DEJAVU} anchor="center" />
      <Txt x={373.3} y={14.2} text="Medium SNR" size={11} font={DEJAVU} anchor="center" />
      <Txt x={529} y={14.2} text="Low SNR" size={11} font={DEJAVU} anchor="center" />
      <Txt x={456.5} y={303.5} text="Random Gaussian Noise" size={8} font={DEJAVU} anchor="center" />
      <Txt x={698} y={303.5} text="Empty Room Noise" size={8} font={DEJAVU} anchor="center" />
      <Txt x={286} y={316.5} text="Separation" size={10} font={DEJAVU} anchor="center" />
      <Txt x={286} y={327} text="Threshold" size={10} font={DEJAVU} anchor="center" />
      <Txt x={734} y={289.5} text="*** p < 0.00001" size={7.8} font={SANS} spacing={0.45} />

      {/* arrow */}
      <svg style={{ position: 'absolute', left: 0, top: 0 }} width={796} height={447}>
        <line x1={258} y1={321} x2={244} y2={321} stroke="#222" strokeWidth={1} />
        <polygon points="241,321 246,318.8 246,323.2" fill="#222" />
      </svg>

      {/* legend A */}
      <div style={{ position: 'absolute', left: 5, top: 110, width: 146, height: 50, boxSizing: 'border-box', border: '1px solid #8a8a8a', background: '#fff' }}>
        {LEGEND_LABELS.map((lab, i) => (
          <div key={lab} style={{ position: 'absolute', left: 0, top: 0.9 + i * 9.9, height: 10, width: 144 }}>
            <svg style={{ position: 'absolute', left: 1, top: 0 }} width={12} height={10}>
              <line x1={1} y1={5} x2={11} y2={5} stroke={LEGEND_COLORS[i]} strokeWidth={LEGEND_DASHED[i] ? 1.4 : 2} strokeDasharray={LEGEND_DASHED[i] ? '2.5 1.2' : undefined} />
            </svg>
            <div style={{ position: 'absolute', left: 12, top: 0, lineHeight: '10px', fontSize: 8.3, fontFamily: SANS, color: '#111', whiteSpace: 'nowrap' }}>{lab}</div>
          </div>
        ))}
      </div>

      {/* legend D */}
      <div style={{ position: 'absolute', left: 546, top: 287, width: 43, height: 19, boxSizing: 'border-box', border: '1px solid #8a8a8a', background: '#fff' }}>
        <div style={{ position: 'absolute', left: 1, top: 1, width: 10, height: 7, background: BAR_BLUE, border: '0.5px solid #333' }} />
        <div style={{ position: 'absolute', left: 1, top: 9.5, width: 10, height: 7, background: BAR_GREEN, border: '0.5px solid #333' }} />
        <div style={{ position: 'absolute', left: 12.5, top: 0, lineHeight: '9px', fontSize: 6.7, fontFamily: SANS, color: '#222' }}>Simulated</div>
        <div style={{ position: 'absolute', left: 12.5, top: 8.5, lineHeight: '9px', fontSize: 6.7, fontFamily: SANS, color: '#222' }}>Analytical</div>
      </div>
    </div>
  );
}
